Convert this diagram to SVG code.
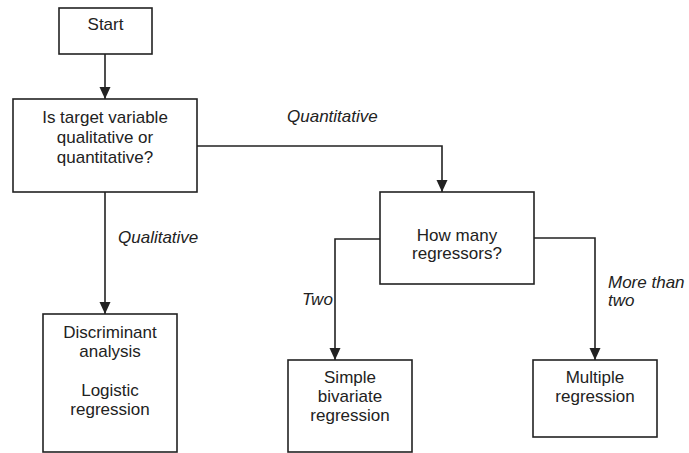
<svg xmlns="http://www.w3.org/2000/svg" width="689" height="453" viewBox="0 0 689 453">
<style>
.box{fill:#fff;stroke:#222;stroke-width:1.6}
.t{font-family:"Liberation Sans",Arial,sans-serif;font-size:17px;fill:#222;text-anchor:middle}
.l{font-family:"Liberation Sans",Arial,sans-serif;font-size:17px;fill:#222;font-style:italic}
.c{fill:none;stroke:#222;stroke-width:1.6}
</style>
<defs>
<marker id="arr" markerUnits="userSpaceOnUse" markerWidth="12" markerHeight="12" viewBox="0 0 12 12" refX="12" refY="6" orient="auto">
<path d="M0,0.5 L12,6 L0,11.5 Z" fill="#222"/>
</marker>
</defs>
<rect width="689" height="453" fill="#fff"/>
<g id="connectors">
<path class="c" d="M105,54 V99" marker-end="url(#arr)"/>
<path class="c" d="M197,146 H442 V192" marker-end="url(#arr)"/>
<path class="c" d="M105,192 V314" marker-end="url(#arr)"/>
<path class="c" d="M380,239 H335 V360" marker-end="url(#arr)"/>
<path class="c" d="M534,238 H595 V360" marker-end="url(#arr)"/>
<text class="l" x="287" y="122">Quantitative</text>
<text class="l" x="118" y="243">Qualitative</text>
<text class="l" x="302" y="305">Two</text>
<text class="l" x="608" y="288">More than</text>
<text class="l" x="608" y="306">two</text>
</g>
<g id="start">
<rect class="box" x="59" y="8" width="93" height="46"/>
<text class="t" x="105.5" y="30">Start</text>
</g>
<g id="target">
<rect class="box" x="13" y="99" width="184" height="93"/>
<text class="t" x="105" y="123">Is target variable</text>
<text class="t" x="105" y="143">qualitative or</text>
<text class="t" x="105" y="163">quantitative?</text>
</g>
<g id="regressors">
<rect class="box" x="380" y="192" width="154" height="92"/>
<text class="t" x="457" y="241">How many</text>
<text class="t" x="457" y="259">regressors?</text>
</g>
<g id="discriminant">
<rect class="box" x="43" y="314" width="134" height="138"/>
<text class="t" x="110" y="338">Discriminant</text>
<text class="t" x="110" y="357">analysis</text>
<text class="t" x="110" y="396">Logistic</text>
<text class="t" x="110" y="415">regression</text>
</g>
<g id="simple">
<rect class="box" x="288" y="360" width="124" height="92"/>
<text class="t" x="350" y="383">Simple</text>
<text class="t" x="350" y="402">bivariate</text>
<text class="t" x="350" y="421">regression</text>
</g>
<g id="multiple">
<rect class="box" x="533" y="360" width="124" height="77"/>
<text class="t" x="595" y="383">Multiple</text>
<text class="t" x="595" y="402">regression</text>
</g>
</svg>
